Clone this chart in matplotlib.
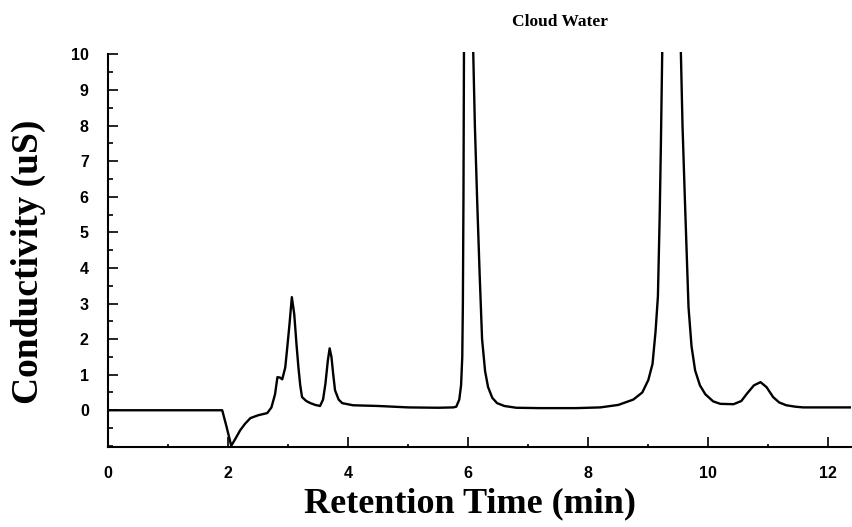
import numpy as np
import matplotlib.pyplot as plt
from matplotlib.ticker import MultipleLocator

# chromatogram trace (min, uS)
time_min = [0.0, 1.90, 1.97, 2.05, 2.12, 2.20, 2.28, 2.37, 2.50, 2.65, 2.72,
            2.78, 2.82, 2.86, 2.90, 2.95, 2.98, 3.02, 3.06, 3.10, 3.14, 3.17,
            3.20, 3.23, 3.30, 3.37, 3.45, 3.53, 3.58, 3.62, 3.66, 3.69, 3.72,
            3.75, 3.78, 3.84, 3.90, 4.08, 4.5, 5.0, 5.5, 5.75, 5.80, 5.85,
            5.88, 5.90, 5.91, 5.92, 5.93, 6.07, 6.11, 6.15, 6.19, 6.23, 6.28,
            6.33, 6.40, 6.48, 6.60, 6.80, 7.2, 7.8, 8.2, 8.5, 8.75, 8.90,
            9.00, 9.07, 9.12, 9.16, 9.19, 9.21, 9.24, 9.53, 9.57, 9.61, 9.64,
            9.67, 9.72, 9.78, 9.86, 9.95, 10.08, 10.20, 10.42, 10.55, 10.65,
            10.76, 10.87, 10.97, 11.08, 11.18, 11.30, 11.45, 11.58, 12.0, 12.4]
conductivity = [0.0, 0.0, -0.45, -1.0, -0.80, -0.56, -0.38, -0.22, -0.14,
                -0.08, 0.08, 0.45, 0.93, 0.92, 0.87, 1.20, 1.70, 2.40, 3.18,
                2.70, 1.80, 1.20, 0.70, 0.37, 0.26, 0.20, 0.15, 0.12, 0.30,
                0.75, 1.40, 1.74, 1.50, 1.00, 0.56, 0.30, 0.20, 0.14, 0.12,
                0.08, 0.07, 0.08, 0.10, 0.30, 0.70, 1.50, 3.0, 6.0, 11.0,
                11.0, 8.0, 5.8, 3.8, 2.0, 1.10, 0.65, 0.35, 0.20, 0.12, 0.07,
                0.06, 0.06, 0.08, 0.15, 0.30, 0.50, 0.85, 1.30, 2.20, 3.20,
                5.5, 7.5, 11.0, 11.0, 8.0, 5.9, 4.4, 2.9, 1.80, 1.12, 0.70,
                0.45, 0.25, 0.18, 0.17, 0.26, 0.48, 0.70, 0.79, 0.65, 0.37,
                0.22, 0.14, 0.10, 0.08, 0.08, 0.08]

fig = plt.figure(figsize=(8.52, 5.27), dpi=100)
ax = fig.add_axes([0.127, 0.152, 0.872, 0.750])

ax.plot(time_min, conductivity, color="black", linewidth=1.7)

ax.set_xlim(0, 12.38)
ax.set_ylim(-1.03, 10.08)

for side in ["top", "right"]:
    ax.spines[side].set_visible(False)
ax.spines["left"].set_linewidth(1.5)
ax.spines["left"].set_bounds(-1.03, 10)
ax.spines["bottom"].set_linewidth(1.5)

ax.set_xticks([0, 2, 4, 6, 8, 10, 12])
ax.xaxis.set_minor_locator(MultipleLocator(1))
ax.set_yticks(range(0, 11))
ax.yaxis.set_minor_locator(MultipleLocator(0.5))
ax.tick_params(axis="both", which="both", direction="in", width=1.2)
ax.tick_params(axis="y", which="major", length=7, pad=14)
ax.tick_params(axis="y", which="minor", length=3.8)
ax.tick_params(axis="x", which="major", length=7, pad=14)
ax.tick_params(axis="x", which="minor", length=2)
for lbl in ax.get_xticklabels() + ax.get_yticklabels():
    lbl.set_fontfamily("Liberation Sans")
    lbl.set_fontweight("bold")
    lbl.set_fontsize(11.5)

ax.set_xlabel("Retention Time (min)", family="Liberation Serif",
              fontweight="bold", fontsize=26)
ax.xaxis.set_label_coords(0.487, -0.103)
ax.set_ylabel("Conductivity (uS)", family="Liberation Serif",
              fontweight="bold", fontsize=27)
ax.yaxis.set_label_coords(-0.084, 0.469)
fig.text(0.657, 0.958, "Cloud Water", family="Liberation Serif",
         fontweight="bold", fontsize=12.5, ha="center", va="center")

fig.savefig("out.png", dpi=100)
